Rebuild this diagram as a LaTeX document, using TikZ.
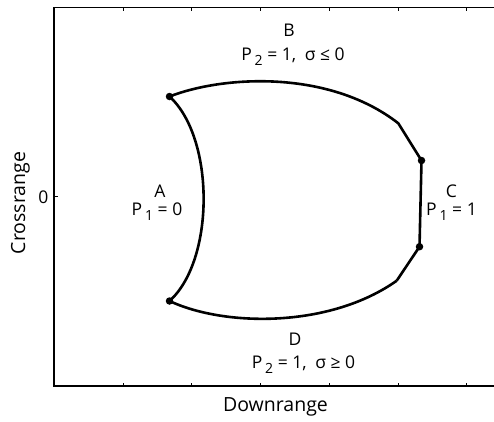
\documentclass[tikz,border=0pt]{standalone}
\usepackage{fontspec}
\setmainfont{Open Sans}
\usepackage{tikz}
\usetikzlibrary{positioning}

\newcommand{\psub}[1]{P\,\raisebox{-0.55ex}{\fontsize{14}{14}\selectfont #1}}

\begin{document}
\begin{tikzpicture}[x=1pt, y=-1pt,
    frame/.style={line width=1.3pt},
    tick/.style={line width=0.7pt},
    curve/.style={line width=2.6pt, line join=round},
    dot/.style={circle, fill, inner sep=0pt, minimum size=7.5pt},
    lbl/.style={font=\fontsize{17.5}{17.5}\selectfont, inner sep=0pt},
    axlbl/.style={font=\fontsize{19.5}{19.5}\selectfont, inner sep=0pt}
  ]
  \useasboundingbox (0,0) rectangle (494,421);

  % axes
  \draw[frame] (494,7.5) -- (54,7.5) -- (54,386) -- (494,386);
  \foreach \x in {123.3,191.7,260,329.3,398.3,466.7} {
    \draw[tick] (\x,7.5) -- (\x,11);
    \draw[tick] (\x,386) -- (\x,382.5);
  }
  \draw[tick] (54,196.7) -- (57.5,196.7);
  \node[lbl] (zero) at (43.5,197) {0};
  \node[axlbl] (xlab) at (275.5,406.5) {Downrange};
  \node[axlbl, rotate=90] (ylab) at (20.5,203) {Crossrange};

  % corner points
  \node[dot] (ab) at (169.5,96.5) {};
  \node[dot] (bc) at (421.5,160.5) {};
  \node[dot] (cd) at (419.5,246.7) {};
  \node[dot] (da) at (169.5,301) {};
  \coordinate (bk) at (398.3,123.3);
  \coordinate (dk) at (396.7,280.7);

  % boundary
  \draw[curve] (ab.center) .. controls (225,75) and (330,70) .. (bk) -- (bc.center);
  \draw[curve] (bc.center) -- (cd.center) -- (dk);
  \draw[curve] (dk) .. controls (330,328) and (225,327) .. (da.center);
  \draw[curve] (da.center) .. controls (215,260) and (215,138) .. (ab.center);

  % region labels
  \node[lbl] (B) at (289,30.5) {B};
  \node[lbl] (Bc) at (293,57) {\psub{2} = 1,\enspace σ ≤ 0};
  \node[lbl] (A) at (160,191.5) {A};
  \node[lbl] (Ac) at (157,212) {\psub{1} = 0};
  \node[lbl] (C) at (451.5,191.5) {C};
  \node[lbl] (Cc) at (451.5,212) {\psub{1} = 1};
  \node[lbl] (D) at (295,339.5) {D};
  \node[lbl] (Dc) at (303.5,365) {\psub{2} = 1,\enspace σ ≥ 0};
\end{tikzpicture}
\end{document}
